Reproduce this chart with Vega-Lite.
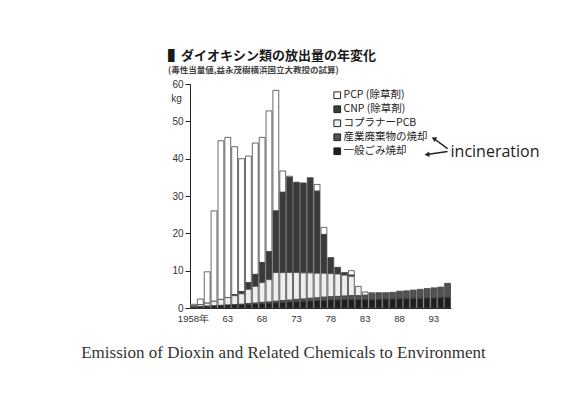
{
  "$schema": "https://vega.github.io/schema/vega-lite/v6.json",
  "width": 261,
  "height": 224,
  "autosize": {"type": "none"},
  "padding": {"left": 190, "top": 84, "right": 115, "bottom": 100},
  "background": "#ffffff",
  "title": {
    "text": "▌ダイオキシン類の放出量の年変化",
    "subtitle": "(毒性当量値,益永茂樹横浜国立大教授の試算)",
    "anchor": "start",
    "frame": "group",
    "dx": -22,
    "offset": 5,
    "font": "Noto Sans CJK JP",
    "fontSize": 13,
    "fontWeight": "bold",
    "color": "#1a1a1a",
    "subtitleFont": "Noto Sans CJK JP",
    "subtitleFontSize": 8.5,
    "subtitleFontWeight": "bold",
    "subtitleColor": "#444444",
    "subtitlePadding": 3
  },
  "config": {"view": {"stroke": null}, "font": "Liberation Sans"},
  "encoding": {
    "x": {
      "field": "year",
      "type": "ordinal",
      "scale": {
        "domain": [1958,1959,1960,1961,1962,1963,1964,1965,1966,1967,1968,1969,1970,1971,1972,1973,1974,1975,1976,1977,1978,1979,1980,1981,1982,1983,1984,1985,1986,1987,1988,1989,1990,1991,1992,1993,1994,1995],
        "paddingInner": 0.15,
        "paddingOuter": 0.075
      },
      "axis": {
        "values": [1958,1963,1968,1973,1978,1983,1988,1993],
        "labelExpr": "datum.label == '1958' ? '1958年' : substring(datum.label, 2, 4)",
        "labelAngle": 0,
        "ticks": false,
        "labelPadding": 5,
        "labelFont": "Liberation Sans",
        "labelFontSize": 9.5,
        "labelFontWeight": "normal",
        "labelColor": "#333333",
        "domainColor": "#222222",
        "domainWidth": 1.2,
        "title": "Emission of Dioxin and Related Chemicals to Environment",
        "titleFont": "Liberation Serif",
        "titleFontSize": 17,
        "titleFontWeight": "normal",
        "titleColor": "#333333",
        "titlePadding": 22,
        "titleX": 93,
        "titleAlign": "center"
      }
    },
    "y": {
      "field": "value",
      "type": "quantitative",
      "scale": {"domain": [0, 60], "nice": false},
      "axis": {
        "values": [0,10,20,30,40,50,60],
        "grid": false,
        "tickSize": 5,
        "tickColor": "#222222",
        "domainColor": "#222222",
        "labelFont": "Liberation Sans",
        "labelFontSize": 10,
        "labelColor": "#333333",
        "labelPadding": 2,
        "title": "kg",
        "titleAngle": 0,
        "titleX": -14,
        "titleY": 14,
        "titleAlign": "center",
        "titleBaseline": "middle",
        "titleFont": "Liberation Sans",
        "titleFontSize": 10,
        "titleFontWeight": "normal",
        "titleColor": "#333333"
      }
    }
  },
  "layer": [
    {
      "data": {
        "values": [
          {"year": 1958, "e_muni": 0.3, "d_ind": 0, "c_pcb": 0.3, "b_cnp": 0, "a_pcp": 0.4},
          {"year": 1959, "e_muni": 0.4, "d_ind": 0, "c_pcb": 0.5, "b_cnp": 0, "a_pcp": 1.5},
          {"year": 1960, "e_muni": 0.5, "d_ind": 0, "c_pcb": 0.8, "b_cnp": 0, "a_pcp": 8.4},
          {"year": 1961, "e_muni": 0.6, "d_ind": 0, "c_pcb": 1.2, "b_cnp": 0, "a_pcp": 24.2},
          {"year": 1962, "e_muni": 0.7, "d_ind": 0, "c_pcb": 1.6, "b_cnp": 0, "a_pcp": 42.5},
          {"year": 1963, "e_muni": 0.8, "d_ind": 0, "c_pcb": 2.0, "b_cnp": 0, "a_pcp": 42.9},
          {"year": 1964, "e_muni": 0.8, "d_ind": 0.1, "c_pcb": 2.4, "b_cnp": 0.3, "a_pcp": 39.6},
          {"year": 1965, "e_muni": 0.9, "d_ind": 0.1, "c_pcb": 2.8, "b_cnp": 0.6, "a_pcp": 35.6},
          {"year": 1966, "e_muni": 1.0, "d_ind": 0.2, "c_pcb": 3.8, "b_cnp": 1.8, "a_pcp": 33.9},
          {"year": 1967, "e_muni": 1.1, "d_ind": 0.2, "c_pcb": 4.5, "b_cnp": 3.2, "a_pcp": 35.2},
          {"year": 1968, "e_muni": 1.2, "d_ind": 0.3, "c_pcb": 5.3, "b_cnp": 5.4, "a_pcp": 33.5},
          {"year": 1969, "e_muni": 1.3, "d_ind": 0.3, "c_pcb": 6.0, "b_cnp": 7.5, "a_pcp": 37.7},
          {"year": 1970, "e_muni": 1.4, "d_ind": 0.4, "c_pcb": 7.7, "b_cnp": 16.5, "a_pcp": 32.3},
          {"year": 1971, "e_muni": 1.5, "d_ind": 0.5, "c_pcb": 7.5, "b_cnp": 21.5, "a_pcp": 5.7},
          {"year": 1972, "e_muni": 1.6, "d_ind": 0.5, "c_pcb": 7.4, "b_cnp": 25.5, "a_pcp": 0.3},
          {"year": 1973, "e_muni": 1.7, "d_ind": 0.6, "c_pcb": 7.2, "b_cnp": 24.2, "a_pcp": 0},
          {"year": 1974, "e_muni": 1.8, "d_ind": 0.6, "c_pcb": 7.0, "b_cnp": 24.1, "a_pcp": 0},
          {"year": 1975, "e_muni": 1.9, "d_ind": 0.7, "c_pcb": 6.8, "b_cnp": 25.5, "a_pcp": 0},
          {"year": 1976, "e_muni": 2.0, "d_ind": 0.7, "c_pcb": 6.6, "b_cnp": 22.0, "a_pcp": 1.8},
          {"year": 1977, "e_muni": 2.1, "d_ind": 0.8, "c_pcb": 6.4, "b_cnp": 10.4, "a_pcp": 1.9},
          {"year": 1978, "e_muni": 2.2, "d_ind": 0.8, "c_pcb": 6.2, "b_cnp": 4.3, "a_pcp": 0},
          {"year": 1979, "e_muni": 2.2, "d_ind": 0.9, "c_pcb": 6.0, "b_cnp": 1.8, "a_pcp": 0},
          {"year": 1980, "e_muni": 2.3, "d_ind": 0.9, "c_pcb": 5.6, "b_cnp": 0.7, "a_pcp": 0},
          {"year": 1981, "e_muni": 2.3, "d_ind": 1.0, "c_pcb": 5.2, "b_cnp": 0.3, "a_pcp": 1.2},
          {"year": 1982, "e_muni": 2.3, "d_ind": 1.0, "c_pcb": 2.5, "b_cnp": 0, "a_pcp": 0},
          {"year": 1983, "e_muni": 2.3, "d_ind": 1.1, "c_pcb": 0.9, "b_cnp": 0, "a_pcp": 0},
          {"year": 1984, "e_muni": 2.3, "d_ind": 1.5, "c_pcb": 0.3, "b_cnp": 0, "a_pcp": 0},
          {"year": 1985, "e_muni": 2.3, "d_ind": 1.6, "c_pcb": 0.2, "b_cnp": 0, "a_pcp": 0},
          {"year": 1986, "e_muni": 2.4, "d_ind": 1.7, "c_pcb": 0, "b_cnp": 0, "a_pcp": 0},
          {"year": 1987, "e_muni": 2.4, "d_ind": 1.8, "c_pcb": 0, "b_cnp": 0, "a_pcp": 0},
          {"year": 1988, "e_muni": 2.5, "d_ind": 2.0, "c_pcb": 0, "b_cnp": 0, "a_pcp": 0},
          {"year": 1989, "e_muni": 2.5, "d_ind": 2.1, "c_pcb": 0, "b_cnp": 0, "a_pcp": 0},
          {"year": 1990, "e_muni": 2.6, "d_ind": 2.2, "c_pcb": 0, "b_cnp": 0, "a_pcp": 0},
          {"year": 1991, "e_muni": 2.6, "d_ind": 2.4, "c_pcb": 0, "b_cnp": 0, "a_pcp": 0},
          {"year": 1992, "e_muni": 2.7, "d_ind": 2.5, "c_pcb": 0, "b_cnp": 0, "a_pcp": 0},
          {"year": 1993, "e_muni": 2.7, "d_ind": 2.7, "c_pcb": 0, "b_cnp": 0, "a_pcp": 0},
          {"year": 1994, "e_muni": 2.8, "d_ind": 2.8, "c_pcb": 0, "b_cnp": 0, "a_pcp": 0},
          {"year": 1995, "e_muni": 2.9, "d_ind": 3.7, "c_pcb": 0, "b_cnp": 0, "a_pcp": 0}
        ]
      },
      "transform": [
        {"fold": ["a_pcp", "b_cnp", "c_pcb", "d_ind", "e_muni"], "as": ["series", "value"]},
        {"filter": "datum.value > 0"}
      ],
      "mark": {"type": "bar", "stroke": "#444444", "strokeWidth": 0.8},
      "encoding": {
        "order": {"field": "series", "sort": "descending"},
        "color": {
          "field": "series",
          "type": "nominal",
          "scale": {
            "domain": ["a_pcp", "b_cnp", "c_pcb", "d_ind", "e_muni"],
            "range": ["#ffffff", "#3a3a3a", "#eeeeee", "#525252", "#1e1e1e"]
          },
          "legend": {
            "orient": "none",
            "legendX": 142,
            "legendY": 6,
            "title": null,
            "symbolType": "square",
            "symbolSize": 45,
            "symbolStrokeColor": "#222222",
            "symbolStrokeWidth": 1,
            "labelFont": "Noto Sans CJK JP",
            "labelFontSize": 10.5,
            "labelColor": "#222222",
            "labelOffset": 1,
            "rowPadding": 2,
            "labelExpr": "datum.label == 'a_pcp' ? 'PCP (除草剤)' : datum.label == 'b_cnp' ? 'CNP (除草剤)' : datum.label == 'c_pcb' ? 'コプラナーPCB' : datum.label == 'd_ind' ? '産業廃棄物の焼却' : '一般ごみ焼却'"
          }
        }
      }
    },
    {
      "data": {
        "values": [
          {"year": 1993, "value": 45.4, "year2": 1995, "value2": 42.7},
          {"year": 1992, "value": 41.1, "year2": 1995, "value2": 41.9}
        ]
      },
      "mark": {"type": "rule", "stroke": "#222222", "strokeWidth": 1.5},
      "encoding": {
        "x2": {"field": "year2"},
        "y2": {"field": "value2"}
      }
    },
    {
      "data": {"values": [{"year": 1993, "value": 45.4}]},
      "mark": {"type": "point", "shape": "triangle-left", "filled": true, "color": "#222222", "size": 30, "opacity": 1, "angle": 27},
      "encoding": {}
    },
    {
      "data": {"values": [{"year": 1992, "value": 41.1}]},
      "mark": {"type": "point", "shape": "triangle-left", "filled": true, "color": "#222222", "size": 30, "opacity": 1, "angle": -6},
      "encoding": {}
    },
    {
      "data": {"values": [{"year": 1995, "value": 41.9, "label": "incineration"}]},
      "mark": {"type": "text", "align": "left", "baseline": "middle", "dx": 3, "font": "Open Sans", "fontSize": 16, "color": "#222222"},
      "encoding": {"text": {"field": "label"}}
    }
  ]
}
